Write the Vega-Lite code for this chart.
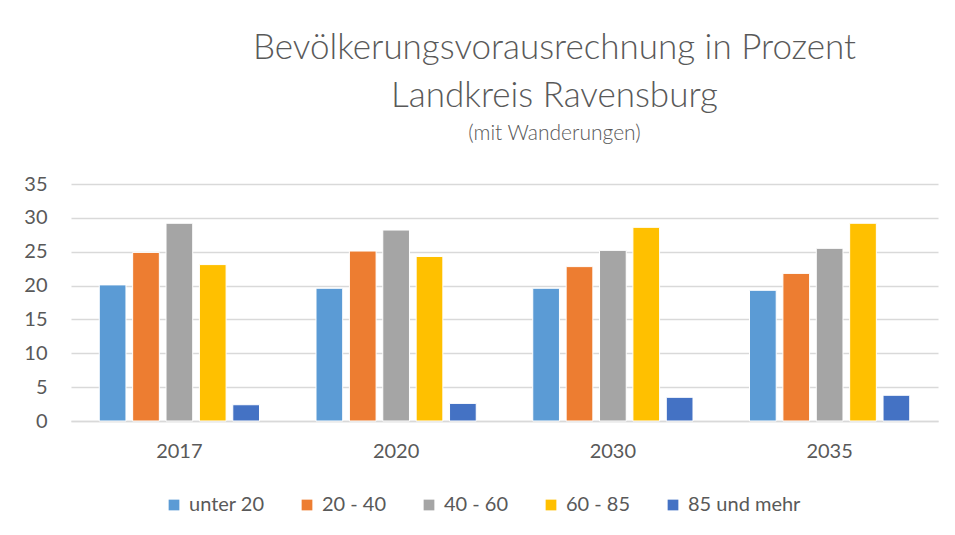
{
  "$schema": "https://vega.github.io/schema/vega-lite/v6.json",
  "width": 867,
  "height": 237,
  "autosize": {"type": "none"},
  "padding": {"left": 71, "top": 184, "right": 17, "bottom": 114},
  "background": "white",
  "title": {
    "text": ["Bevölkerungsvorausrechnung in Prozent", "Landkreis Ravensburg"],
    "subtitle": "(mit Wanderungen)",
    "anchor": "middle",
    "dx": 50,
    "offset": 30,
    "font": "Lato",
    "fontSize": 35,
    "fontWeight": 300,
    "color": "#595959",
    "lineHeight": 48,
    "subtitleFont": "Lato",
    "subtitleFontSize": 21,
    "subtitleFontWeight": 300,
    "subtitleColor": "#595959",
    "subtitlePadding": 9
  },
  "data": {
    "values": [
      {"jahr": "2017", "gruppe": "unter 20", "wert": 20.1},
      {"jahr": "2017", "gruppe": "20 - 40", "wert": 24.9},
      {"jahr": "2017", "gruppe": "40 - 60", "wert": 29.2},
      {"jahr": "2017", "gruppe": "60 - 85", "wert": 23.1},
      {"jahr": "2017", "gruppe": "85 und mehr", "wert": 2.4},
      {"jahr": "2020", "gruppe": "unter 20", "wert": 19.6},
      {"jahr": "2020", "gruppe": "20 - 40", "wert": 25.1},
      {"jahr": "2020", "gruppe": "40 - 60", "wert": 28.2},
      {"jahr": "2020", "gruppe": "60 - 85", "wert": 24.3},
      {"jahr": "2020", "gruppe": "85 und mehr", "wert": 2.6},
      {"jahr": "2030", "gruppe": "unter 20", "wert": 19.6},
      {"jahr": "2030", "gruppe": "20 - 40", "wert": 22.8},
      {"jahr": "2030", "gruppe": "40 - 60", "wert": 25.2},
      {"jahr": "2030", "gruppe": "60 - 85", "wert": 28.6},
      {"jahr": "2030", "gruppe": "85 und mehr", "wert": 3.5},
      {"jahr": "2035", "gruppe": "unter 20", "wert": 19.3},
      {"jahr": "2035", "gruppe": "20 - 40", "wert": 21.8},
      {"jahr": "2035", "gruppe": "40 - 60", "wert": 25.5},
      {"jahr": "2035", "gruppe": "60 - 85", "wert": 29.2},
      {"jahr": "2035", "gruppe": "85 und mehr", "wert": 3.8}
    ]
  },
  "mark": {"type": "bar", "stroke": "white", "strokeWidth": 1},
  "encoding": {
    "x": {
      "field": "jahr",
      "type": "nominal",
      "scale": {"paddingInner": 0.23, "paddingOuter": 0.115},
      "axis": {
        "title": null,
        "labelAngle": 0,
        "labelFont": "Lato",
        "labelFontSize": 20,
        "labelColor": "#595959",
        "labelPadding": 20,
        "ticks": false,
        "domainColor": "#D9D9D9",
        "domainWidth": 1.5
      }
    },
    "xOffset": {
      "field": "gruppe",
      "type": "nominal",
      "sort": ["unter 20", "20 - 40", "40 - 60", "60 - 85", "85 und mehr"],
      "scale": {"paddingInner": 0.2, "paddingOuter": 0.1}
    },
    "y": {
      "field": "wert",
      "type": "quantitative",
      "scale": {"domain": [0, 35]},
      "axis": {
        "title": null,
        "values": [0, 5, 10, 15, 20, 25, 30, 35],
        "labelFont": "Lato",
        "labelFontSize": 20,
        "labelColor": "#595959",
        "labelPadding": 24,
        "ticks": false,
        "domain": false,
        "gridColor": "#D9D9D9",
        "gridWidth": 1.5
      }
    },
    "color": {
      "field": "gruppe",
      "type": "nominal",
      "sort": ["unter 20", "20 - 40", "40 - 60", "60 - 85", "85 und mehr"],
      "scale": {
        "domain": ["unter 20", "20 - 40", "40 - 60", "60 - 85", "85 und mehr"],
        "range": ["#5B9BD5", "#ED7D31", "#A5A5A5", "#FFC000", "#4472C4"]
      },
      "legend": {
        "title": null,
        "orient": "none",
        "legendX": 93,
        "legendY": 311,
        "direction": "horizontal",
        "symbolType": "square",
        "symbolSize": 115,
        "symbolStrokeWidth": 0,
        "labelFont": "Lato",
        "labelFontSize": 20,
        "labelColor": "#595959",
        "columnPadding": 32,
        "labelOffset": 5
      }
    }
  },
  "config": {"view": {"stroke": null}}
}
